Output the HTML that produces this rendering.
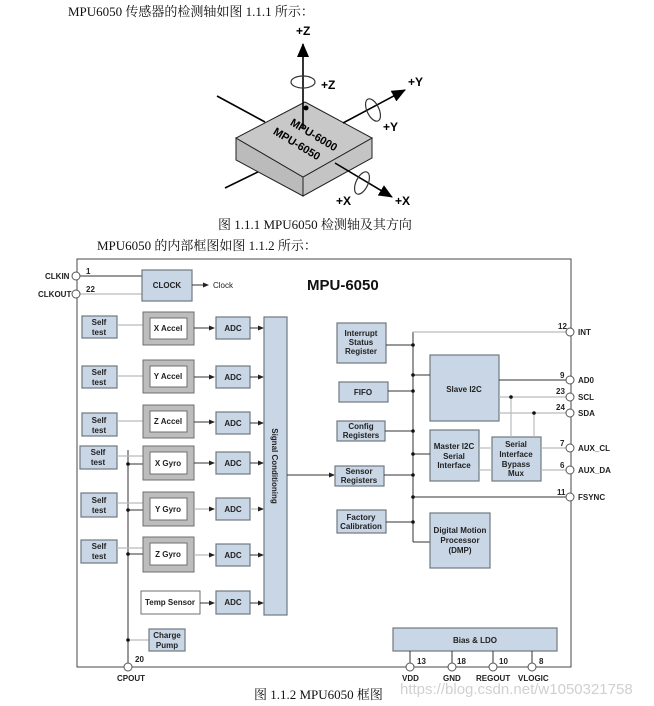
<!DOCTYPE html>
<html><head><meta charset="utf-8"><style>
html,body{margin:0;padding:0;background:#fff;}
svg{display:block;}
.s{font-family:"Liberation Serif","Noto Serif CJK SC","Noto Sans CJK SC",serif;font-size:13px;fill:#111;}
.d{font-family:"Liberation Sans",sans-serif;font-size:8px;font-weight:bold;fill:#222;}
.b{fill:#c9d6e5;stroke:#6f7880;stroke-width:1.2;}
.g{fill:#bdbdbd;stroke:#6f6f6f;stroke-width:1;}
.w{fill:#fff;stroke:#6f6f6f;stroke-width:1;}
.l{stroke:#333;stroke-width:1;fill:none;}
.lg{stroke:#bbb;stroke-width:1.2;fill:none;}
.p{fill:#fff;stroke:#555;stroke-width:1;}
</style></head><body>
<svg width="654" height="706" viewBox="0 0 654 706" xmlns="http://www.w3.org/2000/svg">
<defs>
<marker id="a" markerWidth="6" markerHeight="6" refX="5" refY="3" orient="auto" markerUnits="userSpaceOnUse"><path d="M0,0.5 L6,3 L0,5.5 z" fill="#222"/></marker>
<marker id="A" markerWidth="14" markerHeight="14" refX="13" refY="6" orient="auto" markerUnits="userSpaceOnUse"><path d="M0,0 L14,6 L0,12 z" fill="#000"/></marker>
</defs>
<text class="s" x="68" y="16">MPU6050 传感器的检测轴如图 1.1.1 所示：</text>
<!-- axis figure -->
<line x1="217" y1="96" x2="265" y2="122" stroke="#000" stroke-width="1.6"/>
<line x1="225" y1="188" x2="268" y2="167" stroke="#000" stroke-width="1.6"/>
<polygon points="236,138 303,177 303,196 236,160" fill="#bbb" stroke="#222" stroke-width="1"/>
<polygon points="303,177 372,138 372,158 303,196" fill="#c4c4c4" stroke="#222" stroke-width="1"/>
<polygon points="305,102 372,138 303,177 236,138" fill="#c8c8c8" stroke="#222" stroke-width="1"/>
<line x1="303" y1="128" x2="303" y2="44" stroke="#000" stroke-width="1.6" marker-end="url(#A)"/>
<circle cx="306" cy="108" r="2.5" fill="#000"/>
<line x1="343" y1="123" x2="405" y2="90" stroke="#000" stroke-width="1.6" marker-end="url(#A)"/>
<line x1="335" y1="163" x2="392" y2="197" stroke="#000" stroke-width="1.6" marker-end="url(#A)"/>
<ellipse cx="303" cy="82" rx="12" ry="6" fill="none" stroke="#333" stroke-width="1.2"/>
<ellipse cx="373" cy="110" rx="6" ry="12" transform="rotate(-25 373 110)" fill="none" stroke="#333" stroke-width="1.2"/>
<ellipse cx="362" cy="183" rx="6" ry="12" transform="rotate(25 362 183)" fill="none" stroke="#333" stroke-width="1.2"/>
<text class="d" style="font-size:12px;fill:#000" x="296" y="35">+Z</text>
<text class="d" style="font-size:12px;fill:#000" x="321" y="89">+Z</text>
<text class="d" style="font-size:12px;fill:#000" x="408" y="86">+Y</text>
<text class="d" style="font-size:12px;fill:#000" x="383" y="131">+Y</text>
<text class="d" style="font-size:12px;fill:#000" x="336" y="205">+X</text>
<text class="d" style="font-size:12px;fill:#000" x="395" y="205">+X</text>
<text class="d" style="font-size:11px;fill:#000" transform="translate(312,138) rotate(31)" text-anchor="middle">MPU-6000</text>
<text class="d" style="font-size:11px;fill:#000" transform="translate(295,147) rotate(31)" text-anchor="middle">MPU-6050</text>
<text class="s" x="218" y="229">图 1.1.1 MPU6050 检测轴及其方向</text>
<text class="s" x="97" y="250">MPU6050 的内部框图如图 1.1.2 所示：</text>

<!-- outer box -->
<rect x="77" y="259" width="494" height="408" fill="none" stroke="#666" stroke-width="1.2"/>
<text class="d" style="font-size:15px;fill:#111" x="307" y="290">MPU-6050</text>
<!-- clock -->
<line class="l" x1="80" y1="276" x2="142" y2="276"/>
<line class="lg" x1="80" y1="294" x2="142" y2="294"/>
<circle class="p" cx="76" cy="276" r="4"/><circle class="p" cx="76" cy="294" r="4"/>
<text class="d" x="45" y="279">CLKIN</text><text class="d" x="38" y="297">CLKOUT</text>
<text class="d" x="86" y="274">1</text><text class="d" x="86" y="292">22</text>
<rect class="b" x="142" y="270" width="50" height="31"/>
<text class="d" x="167" y="288" text-anchor="middle">CLOCK</text>
<line class="l" x1="192" y1="285" x2="208" y2="285" marker-end="url(#a)"/>
<text class="d" style="font-weight:normal" x="213" y="288">Clock</text>

<!-- sensor rows -->
<g>
<rect class="b" x="82" y="316" width="35" height="22"/><text class="d" x="99" y="325" text-anchor="middle">Self</text><text class="d" x="99" y="335" text-anchor="middle">test</text>
<line class="lg" x1="117" y1="325" x2="143" y2="325"/>
<rect class="g" x="143" y="312" width="51" height="33"/><rect class="w" x="150" y="318" width="37" height="21"/><text class="d" x="168" y="331" text-anchor="middle">X Accel</text>
<line class="l" x1="194" y1="328" x2="214" y2="328" marker-end="url(#a)"/>

<rect class="b" x="82" y="366" width="35" height="22"/><text class="d" x="99" y="375" text-anchor="middle">Self</text><text class="d" x="99" y="385" text-anchor="middle">test</text>
<line class="lg" x1="117" y1="376" x2="143" y2="376"/>
<rect class="g" x="143" y="360" width="51" height="33"/><rect class="w" x="150" y="366" width="37" height="21"/><text class="d" x="168" y="379" text-anchor="middle">Y Accel</text>
<line class="l" x1="194" y1="377" x2="214" y2="377" marker-end="url(#a)"/>

<rect class="b" x="82" y="413" width="35" height="23"/><text class="d" x="99" y="423" text-anchor="middle">Self</text><text class="d" x="99" y="433" text-anchor="middle">test</text>
<line class="lg" x1="117" y1="421" x2="143" y2="421"/>
<rect class="g" x="143" y="405" width="51" height="33"/><rect class="w" x="150" y="411" width="37" height="21"/><text class="d" x="168" y="424" text-anchor="middle">Z Accel</text>
<line class="l" x1="194" y1="422" x2="214" y2="422" marker-end="url(#a)"/>

<line class="l" x1="128" y1="450" x2="128" y2="663"/>
<rect class="b" x="80" y="446" width="37" height="23"/><text class="d" x="98" y="455" text-anchor="middle">Self</text><text class="d" x="98" y="465" text-anchor="middle">test</text>
<line class="lg" x1="117" y1="456" x2="143" y2="456"/><line class="l" x1="128" y1="464" x2="143" y2="464"/><circle cx="128" cy="464" r="1.8" fill="#111"/>
<rect class="g" x="143" y="446" width="51" height="34"/><rect class="w" x="150" y="452" width="37" height="22"/><text class="d" x="168" y="466" text-anchor="middle">X Gyro</text>
<line class="l" x1="194" y1="463" x2="214" y2="463" marker-end="url(#a)"/>

<rect class="b" x="81" y="493" width="36" height="24"/><text class="d" x="99" y="503" text-anchor="middle">Self</text><text class="d" x="99" y="513" text-anchor="middle">test</text>
<line class="lg" x1="117" y1="503" x2="143" y2="503"/><line class="l" x1="128" y1="510" x2="143" y2="510"/><circle cx="128" cy="510" r="1.8" fill="#111"/>
<rect class="g" x="143" y="492" width="51" height="34"/><rect class="w" x="150" y="498" width="37" height="22"/><text class="d" x="168" y="512" text-anchor="middle">Y Gyro</text>
<line class="lg" x1="194" y1="509" x2="214" y2="509" marker-end="url(#a)"/>

<rect class="b" x="81" y="540" width="36" height="23"/><text class="d" x="99" y="549" text-anchor="middle">Self</text><text class="d" x="99" y="559" text-anchor="middle">test</text>
<line class="lg" x1="117" y1="548" x2="143" y2="548"/><line class="l" x1="128" y1="554" x2="143" y2="554"/><circle cx="128" cy="554" r="1.8" fill="#111"/>
<rect class="g" x="143" y="537" width="51" height="35"/><rect class="w" x="150" y="543" width="37" height="22"/><text class="d" x="168" y="557" text-anchor="middle">Z Gyro</text>
<line class="lg" x1="194" y1="555" x2="214" y2="555" marker-end="url(#a)"/>

<rect class="w" x="141" y="591" width="59" height="23"/><text class="d" x="170" y="605" text-anchor="middle">Temp Sensor</text>
<line class="l" x1="200" y1="603" x2="214" y2="603" marker-end="url(#a)"/>

<rect class="b" x="216" y="317" width="34" height="22"/><text class="d" x="233" y="331" text-anchor="middle">ADC</text>
<rect class="b" x="216" y="366" width="34" height="22"/><text class="d" x="233" y="380" text-anchor="middle">ADC</text>
<rect class="b" x="216" y="412" width="34" height="22"/><text class="d" x="233" y="426" text-anchor="middle">ADC</text>
<rect class="b" x="216" y="452" width="34" height="22"/><text class="d" x="233" y="466" text-anchor="middle">ADC</text>
<rect class="b" x="216" y="498" width="34" height="22"/><text class="d" x="233" y="512" text-anchor="middle">ADC</text>
<rect class="b" x="216" y="544" width="34" height="22"/><text class="d" x="233" y="558" text-anchor="middle">ADC</text>
<rect class="b" x="216" y="591" width="34" height="23"/><text class="d" x="233" y="605" text-anchor="middle">ADC</text>
<line class="l" x1="250" y1="328" x2="263" y2="328" marker-end="url(#a)"/>
<line class="l" x1="250" y1="377" x2="263" y2="377" marker-end="url(#a)"/>
<line class="l" x1="250" y1="423" x2="263" y2="423" marker-end="url(#a)"/>
<line class="l" x1="250" y1="463" x2="263" y2="463" marker-end="url(#a)"/>
<line class="lg" x1="250" y1="509" x2="263" y2="509" marker-end="url(#a)"/>
<line class="l" x1="250" y1="555" x2="263" y2="555" marker-end="url(#a)"/>
<line class="l" x1="250" y1="603" x2="263" y2="603" marker-end="url(#a)"/>

<rect class="b" x="264" y="317" width="23" height="298"/>
<text class="d" transform="translate(272,466) rotate(90)" text-anchor="middle">Signal Conditioning</text>
<line class="l" x1="287" y1="475" x2="334" y2="475" marker-end="url(#a)"/>

<line class="lg" x1="128" y1="640" x2="149" y2="640"/><circle cx="128" cy="640" r="1.8" fill="#111"/>
<rect class="b" x="149" y="629" width="36" height="22"/><text class="d" x="167" y="638" text-anchor="middle">Charge</text><text class="d" x="167" y="648" text-anchor="middle">Pump</text>
<circle class="p" cx="128" cy="667" r="4"/>
<text class="d" x="135" y="662">20</text><text class="d" x="117" y="681">CPOUT</text>
</g>

<!-- right side -->
<g>
<line class="l" x1="413" y1="332" x2="413" y2="542"/>
<line class="lg" x1="413" y1="332" x2="566" y2="332"/>
<line class="l" x1="413" y1="542" x2="430" y2="542"/>
<rect class="b" x="337" y="323" width="49" height="40"/><text class="d" x="361" y="336" text-anchor="middle">Interrupt</text><text class="d" x="361" y="345" text-anchor="middle">Status</text><text class="d" x="361" y="354" text-anchor="middle">Register</text>
<line class="l" x1="386" y1="345" x2="413" y2="345"/>
<rect class="b" x="339" y="382" width="49" height="20"/><text class="d" x="363" y="395" text-anchor="middle">FIFO</text>
<line class="l" x1="388" y1="391" x2="413" y2="391"/>
<rect class="b" x="337" y="421" width="48" height="20"/><text class="d" x="361" y="429" text-anchor="middle">Config</text><text class="d" x="361" y="438" text-anchor="middle">Registers</text>
<line class="l" x1="385" y1="431" x2="413" y2="431"/>
<rect class="b" x="335" y="466" width="49" height="20"/><text class="d" x="359" y="474" text-anchor="middle">Sensor</text><text class="d" x="359" y="483" text-anchor="middle">Registers</text>
<line class="l" x1="384" y1="475" x2="413" y2="475"/>
<rect class="b" x="337" y="510" width="49" height="23"/><text class="d" x="361" y="520" text-anchor="middle">Factory</text><text class="d" x="361" y="529" text-anchor="middle">Calibration</text>
<line class="l" x1="386" y1="522" x2="413" y2="522"/>
<rect class="b" x="430" y="355" width="69" height="66"/><text class="d" x="464" y="392" text-anchor="middle">Slave I2C</text>
<line class="l" x1="413" y1="375" x2="430" y2="375"/>
<rect class="b" x="430" y="430" width="49" height="51"/><text class="d" x="454" y="449" text-anchor="middle">Master I2C</text><text class="d" x="454" y="459" text-anchor="middle">Serial</text><text class="d" x="454" y="468" text-anchor="middle">Interface</text>
<line class="l" x1="413" y1="454" x2="430" y2="454"/>
<rect class="b" x="492" y="437" width="49" height="44"/><text class="d" x="516" y="447" text-anchor="middle">Serial</text><text class="d" x="516" y="457" text-anchor="middle">Interface</text><text class="d" x="516" y="467" text-anchor="middle">Bypass</text><text class="d" x="516" y="476" text-anchor="middle">Mux</text>
<line class="lg" x1="479" y1="448" x2="492" y2="448"/><line class="lg" x1="479" y1="470" x2="492" y2="470"/>
<rect class="b" x="430" y="513" width="60" height="55"/><text class="d" x="460" y="533" text-anchor="middle">Digital Motion</text><text class="d" x="460" y="543" text-anchor="middle">Processor</text><text class="d" x="460" y="553" text-anchor="middle">(DMP)</text>
<line class="l" x1="499" y1="380" x2="566" y2="380"/>
<line class="lg" x1="499" y1="397" x2="566" y2="397"/>
<line class="lg" x1="499" y1="413" x2="566" y2="413"/>
<line class="lg" x1="511" y1="397" x2="511" y2="437"/><circle cx="511" cy="397" r="1.8" fill="#111"/>
<line class="lg" x1="534" y1="413" x2="534" y2="437"/><circle cx="534" cy="413" r="1.8" fill="#111"/>
<line class="lg" x1="541" y1="448" x2="566" y2="448"/>
<line class="lg" x1="541" y1="470" x2="566" y2="470"/>
<line class="l" x1="413" y1="497" x2="566" y2="497"/>
<g fill="#111"><circle cx="413" cy="345" r="1.8"/><circle cx="413" cy="375" r="1.8"/><circle cx="413" cy="391" r="1.8"/><circle cx="413" cy="431" r="1.8"/><circle cx="413" cy="454" r="1.8"/><circle cx="413" cy="475" r="1.8"/><circle cx="413" cy="497" r="1.8"/><circle cx="413" cy="522" r="1.8"/></g>
<circle class="p" cx="570" cy="332" r="4"/><circle class="p" cx="570" cy="380" r="4"/><circle class="p" cx="570" cy="397" r="4"/><circle class="p" cx="570" cy="413" r="4"/><circle class="p" cx="570" cy="448" r="4"/><circle class="p" cx="570" cy="470" r="4"/><circle class="p" cx="570" cy="497" r="4"/>
<text class="d" x="558" y="329">12</text><text class="d" x="578" y="335">INT</text>
<text class="d" x="560" y="378">9</text><text class="d" x="578" y="383">AD0</text>
<text class="d" x="556" y="394">23</text><text class="d" x="578" y="400">SCL</text>
<text class="d" x="556" y="410">24</text><text class="d" x="578" y="416">SDA</text>
<text class="d" x="560" y="446">7</text><text class="d" x="578" y="451">AUX_CL</text>
<text class="d" x="560" y="468">6</text><text class="d" x="578" y="473">AUX_DA</text>
<text class="d" x="557" y="495">11</text><text class="d" x="578" y="500">FSYNC</text>
</g>

<!-- bias -->
<rect class="b" x="393" y="628" width="164" height="23"/><text class="d" x="475" y="643" text-anchor="middle">Bias &amp; LDO</text>
<line class="l" x1="410" y1="651" x2="410" y2="663"/><line class="l" x1="452" y1="651" x2="452" y2="663"/><line class="l" x1="493" y1="651" x2="493" y2="663"/><line class="l" x1="532" y1="651" x2="532" y2="663"/>
<circle class="p" cx="410" cy="667" r="4"/><circle class="p" cx="452" cy="667" r="4"/><circle class="p" cx="493" cy="667" r="4"/><circle class="p" cx="532" cy="667" r="4"/>
<text class="d" x="417" y="664">13</text><text class="d" x="457" y="664">18</text><text class="d" x="499" y="664">10</text><text class="d" x="539" y="664">8</text>
<text class="d" x="402" y="681">VDD</text><text class="d" x="443" y="681">GND</text><text class="d" x="476" y="681">REGOUT</text><text class="d" x="518" y="681">VLOGIC</text>
<text class="s" x="254" y="699">图 1.1.2 MPU6050 框图</text>
<text x="400" y="694" style="font-family:'Liberation Sans',sans-serif;font-size:15px;fill:#d0d0d0">https://blog.csdn.net/w1050321758</text>
</svg>
</body></html>
